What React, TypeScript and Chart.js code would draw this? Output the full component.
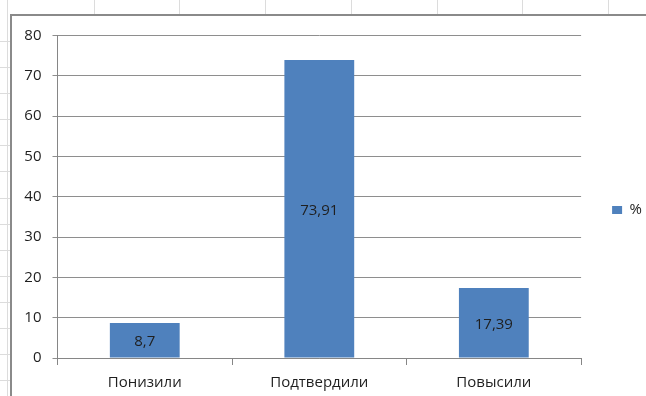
import React, { useEffect, useRef } from "react";
import { Chart, registerables } from "chart.js";

Chart.register(...registerables);

const categories: string[] = ["Понизили", "Подтвердили", "Повысили"];
const seriesName = "%";
const values: number[] = [8.7, 73.91, 17.39];
const yMin = 0;
const yMax = 80;
const yStep = 10;

const FONT = "'Open Sans', 'DejaVu Sans', sans-serif";
const TEXT = "#1f1f1f";
const BAR = "#4F81BD";

const sheetPlugin = {
  id: "sheetBackground",
  beforeDraw(chart: any) {
    const ctx = chart.ctx;
    const W = chart.width;
    const H = chart.height;
    ctx.save();
    ctx.fillStyle = "#ffffff";
    ctx.fillRect(0, 0, W, H);
    // faint spreadsheet cell lines outside the chart frame
    ctx.strokeStyle = "#dcdcdc";
    ctx.lineWidth = 1;
    const cols = [94, 179, 265, 351, 437, 522, 608];
    cols.forEach((x) => {
      ctx.beginPath();
      ctx.moveTo(x + 0.5, 0);
      ctx.lineTo(x + 0.5, 14);
      ctx.stroke();
    });
    ctx.beginPath();
    ctx.moveTo(7.5, 0);
    ctx.lineTo(7.5, H);
    ctx.stroke();
    for (let y = 41; y < H; y += 26.1) {
      ctx.beginPath();
      ctx.moveTo(0, Math.round(y) + 0.5);
      ctx.lineTo(10, Math.round(y) + 0.5);
      ctx.stroke();
    }
    // chart frame
    ctx.fillStyle = "#8a8a8a";
    ctx.fillRect(10, 14, W - 10, 2);
    ctx.fillRect(10, 14, 2, H - 14);
    ctx.restore();
  },
};

const valueLabelPlugin = {
  id: "barValueLabels",
  afterDatasetsDraw(chart: any) {
    const ctx = chart.ctx;
    ctx.save();
    ctx.font = `15px ${FONT}`;
    ctx.fillStyle = TEXT;
    ctx.textAlign = "center";
    ctx.textBaseline = "middle";
    chart.data.datasets.forEach((ds: any, di: number) => {
      const meta = chart.getDatasetMeta(di);
      meta.data.forEach((bar: any, i: number) => {
        const v = ds.data[i] as number;
        const label = String(v).replace(".", ",");
        const cy = (bar.y + bar.base) / 2 + 2;
        ctx.fillText(label, bar.x, cy);
      });
    });
    ctx.restore();
  },
};

export default function App() {
  const ref = useRef<HTMLCanvasElement | null>(null);

  useEffect(() => {
    document.body.style.margin = "0";
    const canvas = ref.current;
    if (!canvas) return;
    const chart = new Chart(canvas, {
      type: "bar",
      data: {
        labels: categories,
        datasets: [
          {
            label: seriesName,
            data: values,
            backgroundColor: BAR,
            borderWidth: 0,
            barPercentage: 0.4,
            categoryPercentage: 1,
          },
        ],
      },
      options: {
        responsive: false,
        animation: false,
        devicePixelRatio: 1,
        layout: { padding: { left: 0, top: 24, right: -6, bottom: 0 } },
        plugins: {
          tooltip: { enabled: false },
          title: {
            display: true,
            text: "",
            padding: 0,
            font: { family: FONT, size: 10, lineHeight: 1.15 },
          },
          legend: {
            position: "right",
            align: "center",
            labels: {
              boxWidth: 10,
              boxHeight: 8,
              padding: 31,
              color: TEXT,
              font: { family: FONT, size: 15 },
            },
          },
        },
        scales: {
          x: {
            grid: {
              display: true,
              drawOnChartArea: false,
              drawTicks: true,
              tickLength: 7,
              color: "#868686",
              offset: true,
            },
            border: { color: "#868686" },
            ticks: {
              padding: 9,
              color: TEXT,
              font: { family: FONT, size: 15 },
              maxRotation: 0,
            },
            afterFit: (s: any) => {
              s.height = 38;
            },
          },
          y: {
            min: yMin,
            max: yMax,
            ticks: {
              stepSize: yStep,
              padding: 11,
              color: TEXT,
              font: { family: FONT, size: 15 },
            },
            grid: { color: "#8e8e8e", tickLength: 5 },
            border: { color: "#868686" },
            afterFit: (s: any) => {
              s.width = 57.5;
            },
          },
        },
      },
      plugins: [sheetPlugin, valueLabelPlugin],
    });
    return () => chart.destroy();
  }, []);

  return (
    <canvas
      ref={ref}
      width={646}
      height={396}
      style={{ display: "block", width: 646, height: 396 }}
    />
  );
}
